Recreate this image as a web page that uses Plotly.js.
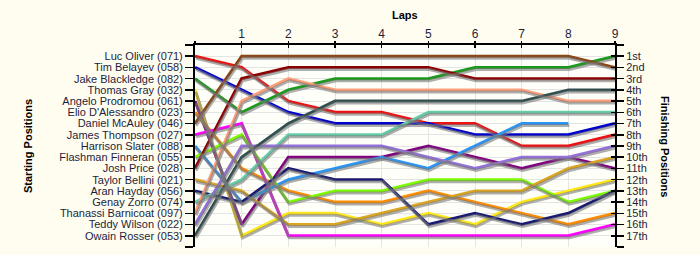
<!DOCTYPE html>
<html>
<head>
<meta charset="utf-8">
<script src="https://cdn.plot.ly/plotly-3.0.1.min.js"></script>
<style>
  html, body { margin: 0; padding: 0; background: #FFFDF0; }
  #chart { width: 700px; height: 255px; }
</style>
</head>
<body>
<div id="chart"></div>
<script>
// ---- Data ----
const laps = [0, 1, 2, 3, 4, 5, 6, 7, 8, 9];
const lapTickLabels = ['', '1', '2', '3', '4', '5', '6', '7', '8', '9'];

const drivers = [
  'Luc Oliver (071)', 'Tim Belayev (058)', 'Jake Blackledge (082)', 'Thomas Gray (032)',
  'Angelo Prodromou (061)', "Elio D'Alessandro (023)", 'Daniel McAuley (046)',
  'James Thompson (027)', 'Harrison Slater (088)', 'Flashman Finneran (055)',
  'Josh Price (028)', 'Taylor Bellini (021)', 'Aran Hayday (056)', 'Genay Zorro (074)',
  'Thanassi Barnicoat (097)', 'Teddy Wilson (022)', 'Owain Rosser (053)'
];

const finishLabels = ['1st', '2nd', '3rd', '4th', '5th', '6th', '7th', '8th', '9th',
  '10th', '11th', '12th', '13th', '14th', '15th', '16th', '17th'];

// positions per lap (lap 0 = starting grid)
const lucOliver         = [1, 2, 5, 6, 6, 7, 7, 9, 9, 8];
const timBelayev        = [2, 4, 6, 7, 7, 7, 8, 8, 8, 7];
const jakeBlackledge    = [3, 6, 4, 3, 3, 3, 2, 2, 2, 1];
const thomasGray        = [4, 17, 15, 15, 16, 15, 16, 14, 13, 12];
const angeloProdromou   = [5, 16, 10, 10, 10, 9, 10, 11, 10, 11];
const elioDAlessandro   = [6, 11, 13, 14, 14, 13, 14, 15, 16, 15];
const danielMcAuley     = [7, 1, 1, 1, 1, 1, 1, 1, 1, 2];
const jamesThompson     = [8, 7, 17, 17, 17, 17, 17, 17, 17, 16];
const harrisonSlater    = [9, 14, 12, 11, 10, 11, 9, 7, 7, null];
const flashmanFinneran  = [10, 8, 14, 13, 13, 12, 12, 12, 14, 13];
const joshPrice         = [11, 3, 2, 2, 2, 2, 3, 3, 3, 3];
const taylorBellini     = [12, 13, 16, 16, 15, 14, 13, 13, 11, 10];
const aranHayday        = [13, 14, 11, 12, 12, 16, 15, 16, 15, 13];
const genayZorro        = [14, 12, 8, 8, 8, 6, 6, 6, 6, 6];
const thanassiBarnicoat = [15, 5, 3, 4, 4, 4, 4, 4, 5, 5];
const teddyWilson       = [16, 9, 9, 9, 9, 10, 11, 10, 10, 9];
const owainRosser       = [17, 10, 7, 5, 5, 5, 5, 5, 4, 4];

const series = [lucOliver, timBelayev, jakeBlackledge, thomasGray, angeloProdromou,
  elioDAlessandro, danielMcAuley, jamesThompson, harrisonSlater, flashmanFinneran,
  joshPrice, taylorBellini, aranHayday, genayZorro, thanassiBarnicoat, teddyWilson, owainRosser];

// ---- Styles ----
const colors = ['#EE1111', '#0000CC', '#1A9A1A', '#FFE81A', '#800080', '#FF8C00', '#8B4513',
  '#FF00FF', '#2B95F5', '#7CFC00', '#8B0000', '#DAA520', '#191970', '#66CDAA',
  '#FFA07A', '#9370DB', '#2F4F4F'];

const W = 700, H = 255, ML = 195, MR = 85, MT = 45, MB = 8;
const plotW = W - ML - MR, plotH = H - MT - MB;
const shX = 1 * 9 / plotW;   // 1px right shadow shift in lap units
const shY = 2 * 18 / plotH;  // 2px down shadow shift in position units

const posTicks = [];
for (let p = 0; p <= 18; p++) posTicks.push(p);
const leftText = [''].concat(drivers).concat(['']);
const rightText = [''].concat(finishLabels).concat(['']);

const traces = [];
series.forEach((s, i) => {
  traces.push({
    x: laps, y: s, xaxis: 'x3', yaxis: 'y3', mode: 'lines', type: 'scatter',
    line: { color: 'rgba(120,120,120,0.6)', width: 3 }, hoverinfo: 'skip', showlegend: false
  });
});
series.forEach((s, i) => {
  traces.push({
    x: laps, y: s, mode: 'lines', type: 'scatter', name: drivers[i],
    line: { color: colors[i], width: 3 }, showlegend: false
  });
});
// dummy traces to activate overlay axes
traces.push({ x: [0], y: [0], yaxis: 'y2', mode: 'markers', marker: { opacity: 0 }, hoverinfo: 'skip', showlegend: false });
traces.push({ x: [0], y: [0], xaxis: 'x4', yaxis: 'y4', mode: 'markers', marker: { opacity: 0 }, hoverinfo: 'skip', showlegend: false });

const font = { family: 'Liberation Sans, Arial, sans-serif', size: 11, color: '#1E1E3C' };

const layout = {
  width: W, height: H,
  margin: { l: ML, r: MR, t: MT, b: MB, pad: 0 },
  paper_bgcolor: '#FFFDF0',
  plot_bgcolor: '#FFFFFA',
  font: font,
  showlegend: false,
  xaxis: {
    range: [0, 9], side: 'top', tickvals: laps, ticktext: lapTickLabels,
    ticks: 'inside', ticklen: 3, tickwidth: 1.5, tickcolor: '#000',
    showline: true, linecolor: '#000', linewidth: 2,
    showgrid: true, gridcolor: '#E4E4E4', gridwidth: 1, zeroline: false,
    tickfont: { family: font.family, size: 12, color: '#1E1E3C' }, fixedrange: true
  },
  yaxis: {
    range: [18, 0], tickvals: posTicks, ticktext: leftText,
    ticks: 'outside', ticklen: 8, tickwidth: 1.5, tickcolor: '#000',
    showline: true, linecolor: '#000', linewidth: 2,
    showgrid: true, gridcolor: '#E4E4E4', gridwidth: 1, zeroline: false,
    tickfont: font, fixedrange: true
  },
  yaxis2: {
    overlaying: 'y', side: 'right', range: [18, 0], tickvals: posTicks, ticktext: rightText,
    ticks: 'outside', ticklen: 7, tickwidth: 1.5, tickcolor: '#000',
    showline: true, linecolor: '#000', linewidth: 2, showgrid: false, zeroline: false,
    tickfont: font, fixedrange: true
  },
  xaxis3: { overlaying: 'x', range: [-shX, 9 - shX], visible: false, fixedrange: true },
  yaxis3: { overlaying: 'y', range: [18 - shY, -shY], visible: false, fixedrange: true },
  xaxis4: {
    overlaying: 'x', side: 'top', range: [0, 9], tickvals: laps, showticklabels: false,
    ticks: 'outside', ticklen: 3, tickwidth: 1.5, tickcolor: '#000', showline: false,
    showgrid: false, zeroline: false, fixedrange: true
  },
  yaxis4: {
    overlaying: 'y', side: 'right', range: [18, 0], tickvals: posTicks, showticklabels: false,
    ticks: 'inside', ticklen: 4, tickwidth: 1.5, tickcolor: '#000', showline: false,
    showgrid: false, zeroline: false, fixedrange: true
  },
  annotations: [
    { text: '<b>Laps</b>', xref: 'paper', yref: 'paper', x: 0.5, y: 1 + 30 / plotH,
      xanchor: 'center', yanchor: 'middle', showarrow: false,
      font: { family: font.family, size: 11, color: '#000' } },
    { text: '<b>Starting Positions</b>', xref: 'paper', yref: 'paper', x: (28 - ML) / plotW, y: 0.5,
      xanchor: 'center', yanchor: 'middle', showarrow: false, textangle: -90,
      font: { family: font.family, size: 11, color: '#000' } },
    { text: '<b>Finishing Positions</b>', xref: 'paper', yref: 'paper', x: (665 - ML) / plotW, y: 0.5,
      xanchor: 'center', yanchor: 'middle', showarrow: false, textangle: 90,
      font: { family: font.family, size: 11, color: '#000' } }
  ]
};

Plotly.newPlot('chart', traces, layout, { displayModeBar: false, staticPlot: true });
</script>
</body>
</html>
